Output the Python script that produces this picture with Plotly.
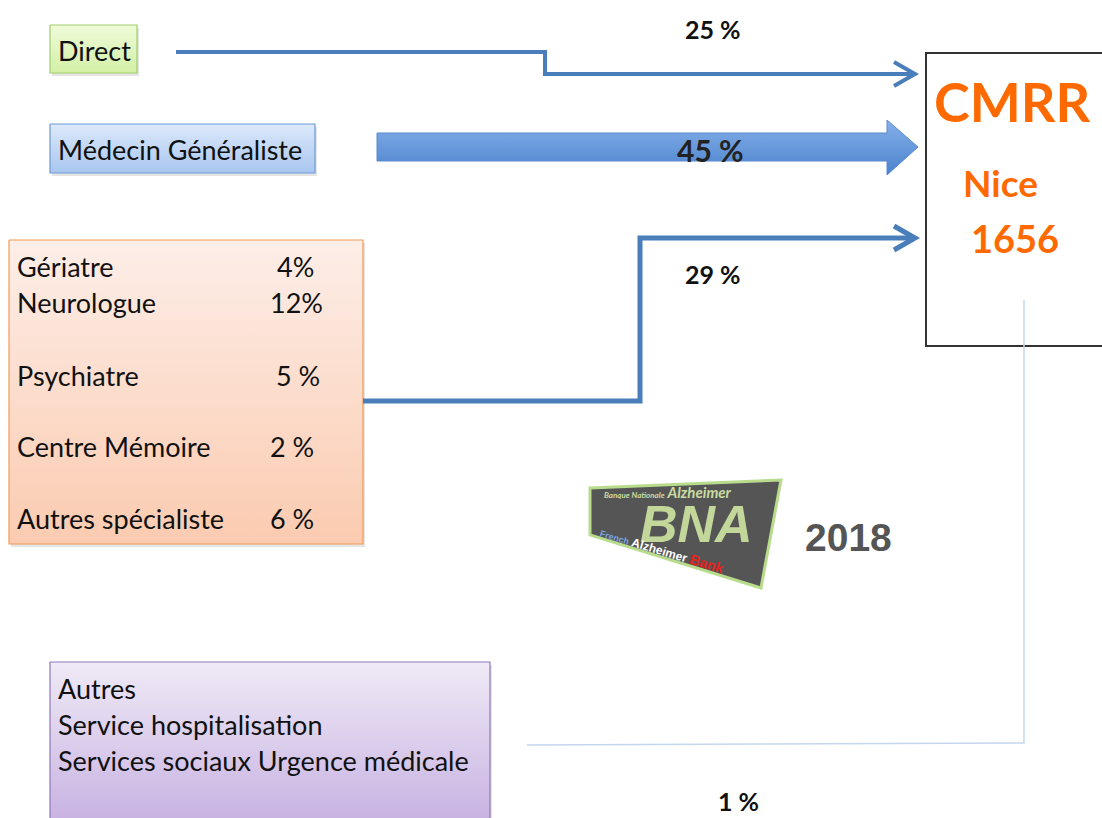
import plotly.graph_objects as go

# ---------------- data ----------------
sources = ["Direct", "Médecin Généraliste", "Spécialistes", "Autres"]
source_pct = ["25 %", "45 %", "29 %", "1 %"]
specialists = ["Gériatre", "Neurologue", "Psychiatre", "Centre Mémoire", "Autres spécialiste"]
specialist_pct = ["4%", "12%", "5 %", "2 %", "6 %"]
autres_lines = ["Autres", "Service hospitalisation", "Services sociaux Urgence médicale"]
center_title = "CMRR"
center_city = "Nice"
center_total = "1656"
year = "2018"

W, H = 1102, 818
FONT = "Lato"
BLUE = "#4a7ebb"
ORANGE = "#ff6a00"
BODY = 27

fig = go.Figure()

def grad_box(x0, y0, x1, y1, c_top, c_bot, border, width=1.2):
    fig.add_trace(go.Scatter(
        x=[x0, x1, x1, x0, x0], y=[y0, y0, y1, y1, y0],
        mode="lines", fill="toself",
        fillgradient=dict(type="vertical", colorscale=[[0, c_bot], [1, c_top]]),
        line=dict(color=border, width=width), hoverinfo="skip", showlegend=False))

def shadow(x0, y0, x1, y1):
    fig.add_shape(type="rect", x0=x0 + 2, y0=y0 + 3, x1=x1 + 2, y1=y1 + 3,
                  line=dict(width=0), fillcolor="rgba(0,0,0,0.10)", layer="below")

def text(x, y, s, size=BODY, color="#111", bold=False, xa="left", ya="middle", family=FONT, angle=0):
    fig.add_annotation(x=x, y=y, text=(f"<b>{s}</b>" if bold else s), showarrow=False,
                       xanchor=xa, yanchor=ya, textangle=angle,
                       font=dict(family=family, size=size, color=color))

# ---- Direct box ----
shadow(50, 25, 137, 73)
grad_box(50, 25, 137, 73, "#eefbd9", "#d3f0a6", "#9fce6a")
text(56, 50, sources[0])

# ---- Médecin Généraliste box ----
shadow(50, 124, 315, 173)
grad_box(50, 124, 315, 173, "#dce9fb", "#a8c6ef", "#6e9ad3")
text(56, 149, sources[1])

# ---- Specialists box ----
shadow(9, 240, 363, 544)
grad_box(9, 240, 363, 544, "#fdeee8", "#fbcbb0", "#f39a55")
rows_y = [266, 302, 375, 446, 518]
pct_x = [295, 296, 298, 292, 292]
for name, p, yy, px in zip(specialists, specialist_pct, rows_y, pct_x):
    text(15, yy, name)
    text(px, yy, p, xa="center")

# ---- Autres box ----
shadow(50, 662, 490, 830)
grad_box(50, 662, 490, 830, "#efeaf6", "#c6afe1", "#9077b8")
for i, s in enumerate(autres_lines):
    text(56, 688 + 36 * i, s)

# ---- CMRR box (open to the right edge) ----
fig.add_shape(type="rect", x0=926, y0=53, x1=1140, y1=346,
              line=dict(width=0), fillcolor="white")
fig.add_shape(type="path", path="M1140,53 L926,53 L926,346 L1140,346",
              line=dict(color="#333333", width=2))
text(1012, 101, center_title, size=54, color=ORANGE, bold=True, xa="center")
text(1000, 182, center_city, size=37, color=ORANGE, bold=True, xa="center")
text(1015, 238, center_total, size=38, color=ORANGE, bold=True, xa="center")

# ---- arrows ----
fig.add_shape(type="path", path="M176,52 L545,52 L545,74 L912,74",
              line=dict(color=BLUE, width=4))
fig.add_shape(type="path", path="M894,62 L915,74 L894,86",
              line=dict(color=BLUE, width=4))
text(713, 29, source_pct[0], size=25, bold=True, xa="center")

fig.add_trace(go.Scatter(
    x=[377, 887, 887, 918, 887, 887, 377, 377],
    y=[133, 133, 120, 147, 175, 161, 161, 133],
    mode="lines", fill="toself",
    fillgradient=dict(type="vertical", colorscale=[[0, "#4a82cc"], [1, "#86b0ea"]]),
    line=dict(color="#5a8ad0", width=1), hoverinfo="skip", showlegend=False))
text(710, 150, source_pct[1], size=30, bold=True, xa="center", color="#222")

fig.add_shape(type="path", path="M363,401 L640,401 L640,238 L912,238",
              line=dict(color=BLUE, width=5))
fig.add_shape(type="path", path="M894,226 L915,238 L894,250",
              line=dict(color=BLUE, width=5))
text(713, 274, source_pct[2], size=25, bold=True, xa="center")

fig.add_shape(type="path", path="M527,745 L1024,743 L1024,300",
              line=dict(color="#c5d7ef", width=1.5))
text(738, 801, source_pct[3], size=25, bold=True, xa="center")

# ---- BNA logo ----
fig.add_shape(type="path", path="M590,488 L781,480 L761,588 L590,535 Z",
              line=dict(color="#b8dc8c", width=3), fillcolor="#555555")
text(602, 492, "<i><span style='font-size:8px'>Banque Nationale</span> Alzheimer</i>",
     size=15, color="#c9dba0", bold=True)
text(696, 524, "<i>BNA</i>", size=52, color="#c4d79b", bold=True, xa="center",
     family="Liberation Sans")
text(662, 550,
     "<span style='color:#7aa5dc;font-size:9px'>French</span> "
     "<span style='color:#ffffff'>Alzheimer</span> "
     "<span style='color:#e8201b;font-size:14px'>Bank</span>",
     size=12, bold=True, xa="center", angle=17, family="Liberation Sans")
text(848, 537, year, size=39, color="#555555", bold=True, xa="center", family="Liberation Sans")

fig.update_layout(
    width=W, height=H, margin=dict(l=0, r=0, t=0, b=0),
    paper_bgcolor="white", plot_bgcolor="white", showlegend=False,
    xaxis=dict(range=[0, W], visible=False, fixedrange=True),
    yaxis=dict(range=[H, 0], visible=False, fixedrange=True),
)
fig.write_html("out.html", config={"displayModeBar": False},
               post_script="document.body.style.margin='0';document.body.style.overflow='hidden';")
